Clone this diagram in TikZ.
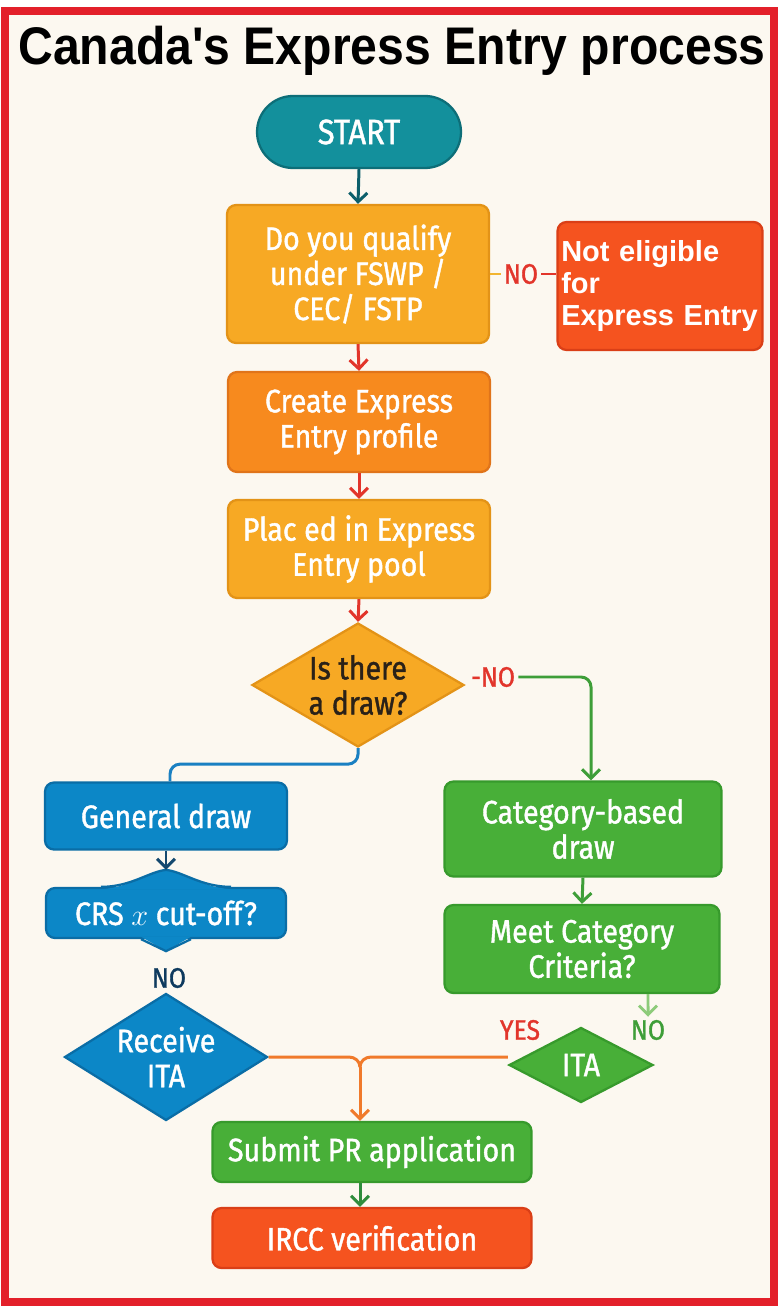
\documentclass[tikz,border=0pt]{standalone}
\usepackage{fontspec}
\setmainfont{Fira Sans}[FakeStretch=0.88, FakeBold=1.2]
\newfontfamily\arialfont{Liberation Sans}
\usepackage{xcolor}
\usetikzlibrary{shapes.geometric,arrows.meta}

\definecolor{cream}{HTML}{FCF8F0}
\definecolor{framered}{HTML}{E3202A}
\definecolor{startteal}{HTML}{13909C}
\definecolor{startedge}{HTML}{0D6E78}
\definecolor{amber}{HTML}{F7A924}
\definecolor{amberedge}{HTML}{E39317}
\definecolor{carrot}{HTML}{F78A1E}
\definecolor{carrotedge}{HTML}{E0741A}
\definecolor{redorange}{HTML}{F5531F}
\definecolor{redorangeedge}{HTML}{DA3F17}
\definecolor{skyblue}{HTML}{0C87C7}
\definecolor{skyedge}{HTML}{0A6DA6}
\definecolor{leafgreen}{HTML}{48AF38}
\definecolor{leafedge}{HTML}{379A2C}
\definecolor{darktext}{HTML}{2A2118}
\definecolor{nored}{HTML}{E2352B}
\definecolor{navy}{HTML}{0E3A5E}
\definecolor{arrowteal}{HTML}{0C5F6B}
\definecolor{lineyellow}{HTML}{F2B530}
\definecolor{lineblue}{HTML}{1A80C2}
\definecolor{arrownavy}{HTML}{15496F}
\definecolor{ltgreen}{HTML}{8DCB7A}
\definecolor{lineorange}{HTML}{F07A2B}
\definecolor{arrowgreen}{HTML}{2F8C3D}
\definecolor{nogreen}{HTML}{3E9E38}

\newcommand{\nodefont}{\fontsize{18.5}{20}\selectfont}
\newcommand{\tagfont}{\fontsize{16}{18}\selectfont}

\begin{document}
\begin{tikzpicture}[x=0.02cm, y=-0.02cm, line width=1.7pt,
    procbox/.style={rectangle, rounded corners=0.18cm, line width=1.3pt, text=white, align=center, font=\nodefont, inner sep=0pt},
    decision/.style={diamond, line width=1.3pt, text=white, align=center, font=\nodefont, inner sep=0pt},
    tag/.style={font=\tagfont, inner sep=1pt},
    flow/.style={-{Straight Barb[length=1.8mm,width=3.6mm]}, line width=1.7pt}]
    \useasboundingbox (0,0) rectangle (779,1310);
    \fill[white] (0,0) rectangle (779,1310);
    \filldraw[fill=cream, draw=framered, line width=0.16cm] (5,11) rectangle (774,1302);

    \node[font=\arialfont\bfseries\fontsize{27.4}{30}\selectfont, anchor=base, inner sep=0pt] (title) at (392,65) {\scalebox{1}[1.1]{Canada\textquotesingle s Express Entry process}};

    \node[procbox, fill=startteal, draw=startedge, minimum width=4.08cm, minimum height=1.44cm, rounded corners=0.72cm, font=\fontsize{20}{22}\selectfont] (start) at (359,132) {START};
    \node[procbox, fill=amber, draw=amberedge, minimum width=5.24cm, minimum height=2.76cm] (qualify) at (358,274) {Do you qualify\\under FSWP /\\CEC/ FSTP};
    \node[procbox, fill=redorange, draw=redorangeedge, minimum width=4.1cm, minimum height=2.56cm, align=left, text width=3.95cm, font=\arialfont\bfseries\fontsize{16.5}{18}\selectfont] (noteligible) at (660,286) {Not eligible\\for\\Express Entry};
    \node[tag, text=nored] (qualno) at (521,274) {NO};
    \node[procbox, fill=carrot, draw=carrotedge, minimum width=5.24cm, minimum height=2.0cm] (profile) at (359,422) {Create Express\\Entry profile};
    \node[procbox, fill=amber, draw=amberedge, minimum width=5.24cm, minimum height=1.96cm] (pool) at (359,549) {Plac ed in Express\\Entry pool};
    \node[decision, fill=amber, draw=amberedge, text=darktext, aspect=1.7, minimum width=4.24cm, minimum height=2.48cm] (isdraw) at (358,685) {Is there\\a draw?};
    \node[tag, text=nored] (drawno) at (493,677) {-NO};

    \node[procbox, fill=skyblue, draw=skyedge, minimum width=4.84cm, minimum height=1.34cm] (general) at (166,816) {General draw};
    \node[procbox, fill=skyblue, draw=skyedge, minimum width=4.8cm, minimum height=1.0cm] (crs) at (166,913) {CRS $x$ cut-off?};
    \node[tag, text=navy] (crsno) at (169,978) {NO};
    \node[decision, fill=skyblue, draw=skyedge, aspect=1.6, minimum width=4.06cm, minimum height=2.54cm] (receive) at (166,1057) {Receive\\ITA};

    \node[procbox, fill=leafgreen, draw=leafedge, minimum width=5.54cm, minimum height=1.9cm] (category) at (583,829) {Category-based\\draw};
    \node[procbox, fill=leafgreen, draw=leafedge, minimum width=5.5cm, minimum height=1.76cm] (criteria) at (582,949) {Meet Category\\Criteria?};
    \node[tag, text=nored] (yes) at (520,1030) {YES};
    \node[tag, text=nogreen] (critno) at (648,1030) {NO};
    \node[decision, fill=leafgreen, draw=leafedge, minimum width=2.88cm, minimum height=1.5cm] (ita) at (581,1065) {ITA};

    \node[procbox, fill=leafgreen, draw=leafedge, minimum width=6.38cm, minimum height=1.2cm] (submit) at (372,1152) {Submit PR application};
    \node[procbox, fill=redorange, draw=redorangeedge, minimum width=6.38cm, minimum height=1.2cm] (ircc) at (372,1238) {IRCC verification};

    \fill[skyblue] ([xshift=-1.3cm,yshift=-0.05cm]crs.north) .. controls ([xshift=-0.7cm]crs.north) and ([xshift=-0.35cm,yshift=0.3cm]crs.north) .. ([yshift=0.34cm]crs.north) .. controls ([xshift=0.35cm,yshift=0.3cm]crs.north) and ([xshift=0.7cm]crs.north) .. ([xshift=1.3cm,yshift=-0.05cm]crs.north) -- cycle;
    \draw[skyedge, line width=1.3pt] ([xshift=-1.3cm]crs.north) .. controls ([xshift=-0.7cm]crs.north) and ([xshift=-0.35cm,yshift=0.3cm]crs.north) .. ([yshift=0.34cm]crs.north) .. controls ([xshift=0.35cm,yshift=0.3cm]crs.north) and ([xshift=0.7cm]crs.north) .. ([xshift=1.3cm]crs.north);
    \fill[skyblue] ([xshift=-0.5cm,yshift=0.05cm]crs.south) -- ([yshift=-0.24cm]crs.south) -- ([xshift=0.5cm,yshift=0.05cm]crs.south) -- cycle;
    \draw[skyedge, line width=1.3pt] ([xshift=-0.5cm]crs.south) -- ([yshift=-0.24cm]crs.south) -- ([xshift=0.5cm]crs.south);

    \draw[flow, arrowteal] (start.south) -- (qualify.north);
    \draw[lineyellow] (qualify.east) -- (qualno.west);
    \draw[nored] (qualno.east) -- (noteligible.west |- qualno.east);
    \draw[flow, nored] (qualify.south) -- (profile.north);
    \draw[flow, nored] (profile.south) -- (pool.north);
    \draw[flow, nored] (pool.south) -- (isdraw.north);
    \draw[flow, nogreen, rounded corners=0.2cm] (drawno.east) -| ([xshift=0.16cm]category.north);
    \draw[lineblue, rounded corners=0.2cm] (isdraw.south) -- ++(0,-0.32cm) -| ([xshift=0.08cm]general.north);
    \draw[flow, arrownavy] (general.south) -- ([yshift=0.34cm]crs.north);
    \draw[flow, nogreen] (category.south) -- (criteria.north);
    \draw[flow, ltgreen] ([xshift=1.32cm]criteria.south) -- (critno.north);

    \coordinate (merge) at (360,1057);
    \draw[lineorange] (receive.east) -- ([xshift=-0.22cm]merge) to[out=0,in=90] ([yshift=-0.2cm]merge);
    \draw[lineorange] (ita.west |- merge) -- ([xshift=0.22cm]merge) to[out=180,in=90] ([yshift=-0.2cm]merge);
    \draw[flow, lineorange] ([yshift=-0.2cm]merge) -- (merge |- submit.north);
    \draw[flow, arrowgreen] (merge |- submit.south) -- (merge |- ircc.north);
\end{tikzpicture}
\end{document}
